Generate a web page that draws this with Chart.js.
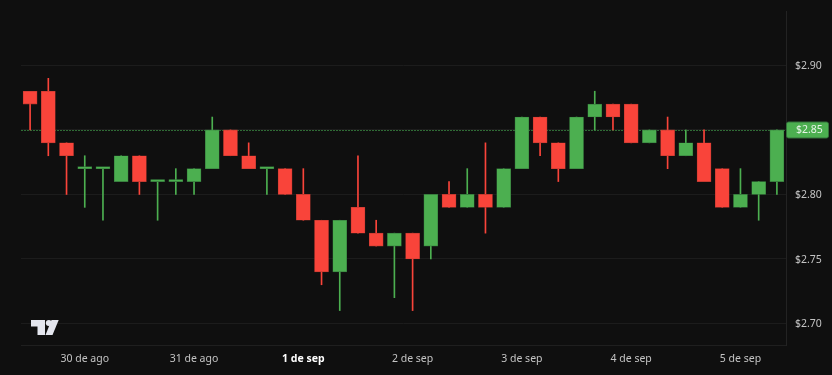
<!DOCTYPE html>
<html><head><meta charset="utf-8">
<style>html,body{margin:0;padding:0;background:#0f0f0f;overflow:hidden}#w{position:relative;width:832px;height:375px}canvas{display:block}</style>
<script src="https://cdn.jsdelivr.net/npm/chart.js@4"></script>
</head><body><div id="w"><canvas id="c" width="832" height="375"></canvas></div>
<script>
const labels=['','','','30 de ago','','','','','','31 de ago','','','','','','1 de sep','','','','','','2 de sep','','','','','','3 de sep','','','','','','4 de sep','','','','','','5 de sep','',''];
const opens =[2.88,2.88,2.84,2.82,2.82,2.81,2.83,2.81,2.81,2.81,2.82,2.85,2.83,2.82,2.82,2.80,2.78,2.74,2.79,2.77,2.76,2.77,2.76,2.80,2.79,2.80,2.79,2.82,2.86,2.84,2.82,2.86,2.87,2.87,2.84,2.85,2.83,2.84,2.82,2.79,2.80,2.81];
const highs =[2.88,2.89,2.84,2.83,2.82,2.83,2.83,2.81,2.82,2.82,2.86,2.85,2.84,2.82,2.82,2.82,2.78,2.78,2.83,2.78,2.77,2.77,2.80,2.81,2.82,2.84,2.82,2.86,2.86,2.84,2.86,2.88,2.87,2.87,2.85,2.86,2.85,2.85,2.82,2.82,2.81,2.85];
const lows  =[2.85,2.83,2.80,2.79,2.78,2.81,2.80,2.78,2.80,2.80,2.82,2.83,2.82,2.80,2.80,2.78,2.73,2.71,2.77,2.76,2.72,2.71,2.75,2.79,2.79,2.77,2.79,2.82,2.83,2.81,2.82,2.85,2.85,2.84,2.84,2.82,2.83,2.81,2.79,2.79,2.78,2.80];
const closes=[2.87,2.84,2.83,2.82,2.82,2.83,2.81,2.81,2.81,2.82,2.85,2.83,2.82,2.82,2.80,2.78,2.74,2.78,2.77,2.76,2.77,2.75,2.80,2.79,2.80,2.79,2.82,2.86,2.84,2.82,2.86,2.87,2.86,2.84,2.85,2.83,2.84,2.81,2.79,2.80,2.81,2.85];
const yTicks=[2.70,2.75,2.80,2.85,2.90];
const lastPrice=2.85, yMin=2.6833, yMax=2.9422;
const UP='#4caf50', DOWN='#f9443a', UPB='#33713a', DOWNB='#b5382f';
const isUp=i=>closes[i]>=opens[i];
const fmt=v=>'$'+v.toFixed(2);
const FONT='"Noto Sans", sans-serif';

const overlay={id:'overlay',
 beforeDatasetsDraw(ch){
  const y=Math.round(ch.scales.y.getPixelForValue(lastPrice))+0.5,a=ch.chartArea,c=ch.ctx;
  c.save();c.strokeStyle='#2f6b35';c.lineWidth=1;c.setLineDash([2,1]);
  c.beginPath();c.moveTo(a.left,y);c.lineTo(a.right,y);c.stroke();c.restore();
 },
 afterDraw(ch){
  const y=ch.scales.y.getPixelForValue(lastPrice),a=ch.chartArea,c=ch.ctx;
  c.save();
  c.fillStyle=UP;c.strokeStyle='#33713a';c.lineWidth=1;
  c.beginPath();c.roundRect(a.right+0.5,Math.round(y)-8,42,16,2);c.fill();c.stroke();
  c.fillStyle='#e6f3e6';c.font='10.5px '+FONT;c.textAlign='left';c.textBaseline='middle';
  c.fillText(fmt(lastPrice),a.right+10,y+0.5);
  c.fillStyle='#e4e6ee';c.translate(31,320);
  c.beginPath();c.moveTo(0,0);c.lineTo(14,0);c.lineTo(14,15);c.lineTo(6.5,15);c.lineTo(6.5,6.5);c.lineTo(0,6.5);c.closePath();c.fill();
  c.beginPath();c.arc(17.8,3,3,0,Math.PI*2);c.fill();
  c.beginPath();c.moveTo(20.5,0);c.lineTo(27.7,0);c.lineTo(21.5,15);c.lineTo(14.5,15);c.closePath();c.fill();
  c.restore();
 }};

new Chart(document.getElementById('c'),{
 type:'bar',
 data:{labels,datasets:[
  {label:'Cuerpo',order:1,grouped:false,barThickness:14,minBarLength:2,
   data:opens.map((o,i)=>[Math.min(o,closes[i]),Math.max(o,closes[i])]),
   backgroundColor:opens.map((o,i)=>isUp(i)?UP:DOWN),
   borderColor:opens.map((o,i)=>isUp(i)?UPB:DOWNB),borderWidth:0.6,borderSkipped:false},
  {label:'Mecha',order:2,grouped:false,barThickness:1,
   data:lows.map((l,i)=>[l,highs[i]]),
   backgroundColor:opens.map((o,i)=>isUp(i)?UP:DOWN),borderWidth:0}
 ]},
 options:{responsive:false,animation:false,
  layout:{padding:{left:21,top:11,right:0,bottom:0}},
  plugins:{legend:{display:false},tooltip:{enabled:false}},
  scales:{
   x:{offset:true,grid:{display:false,drawTicks:false},border:{display:true,color:'#1f1f1f'},
      afterFit(s){s.height=30},
      ticks:{autoSkip:false,maxRotation:0,padding:8,color:ctx=>ctx.tick.label==='1 de sep'?'#ffffff':'#c4c4c4',
        font:ctx=>({family:FONT,size:10.5,weight:ctx.tick&&ctx.tick.label==='1 de sep'?'700':'400'})}},
   y:{position:'right',min:yMin,max:yMax,afterFit(s){s.width=46;s.paddingTop=0;s.paddingBottom=0},
      afterBuildTicks(s){s.ticks=yTicks.map(v=>({value:v}))},
      grid:{color:'#1c1c1c',drawTicks:false},border:{display:true,color:'#232323'},
      ticks:{padding:9,labelOffset:1,color:'#c4c4c4',font:{family:FONT,size:10.5},callback:v=>fmt(v)}}
  }},
 plugins:[overlay]
});
</script></body></html>
